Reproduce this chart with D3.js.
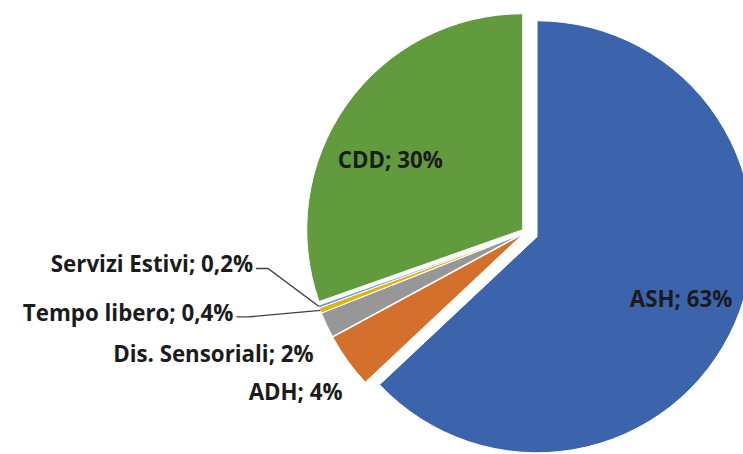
<!DOCTYPE html>
<html>
<head>
<meta charset="utf-8">
<script src="https://cdn.jsdelivr.net/npm/d3@7"></script>
<style>
  body { margin: 0; background: #fff; }
  svg { display: block; }
  .lbl { font-family: "Open Sans", sans-serif; font-weight: bold; font-size: 22.3px; fill: #1b1b1b; }
</style>
</head>
<body>
<svg id="pieChart" width="743" height="454"></svg>
<script>
// Chart data (percent shares)
var categories = ["ASH", "ADH", "Dis. Sensoriali", "Tempo libero", "Servizi Estivi", "CDD"];
var shares = [63.0, 4.1, 1.9, 0.4, 0.2, 30.4];
var sliceColors = ["#3c64ac", "#d5702c", "#979797", "#e8b00f", "#5b9bd5", "#629a3e"];

// how far each slice is pulled out of the pie
var explode = [12, 4, 4, 4, 4, 4];

// label placement: radius along mid angle + nudge
var labelPos = [
  {r: 157, dx: 0, dy: 0, anchor: "middle"},
  {r: 216, dx: -52, dy: 31, anchor: "middle"},
  {r: 216, dx: -13, dy: 29, anchor: "end"},
  {r: 216, dx: -87, dy: 2.5, anchor: "end", leader: true},
  {r: 216, dx: -66, dy: -42, anchor: "end", leader: true},
  {r: 150, dx: -10, dy: 17, anchor: "middle"}
];

var width = 743, height = 454;
var cx = 526, cy = 232, radius = 216;

var total = d3.sum(shares);

function fmtPct(v) {
  var p = v / total * 100;
  if (p < 1) return d3.format(".1f")(p).replace(".", ",") + "%";
  return Math.round(p) + "%";
}

function dir(a) {
  return [Math.sin(a), -Math.cos(a)];
}

var svg = d3.select("#pieChart");
var g = svg.append("g").attr("transform", "translate(" + cx + "," + cy + ")");

var pie = d3.pie().sort(null).value(function (d) { return d; });
var arcs = pie(shares);

var arc = d3.arc().innerRadius(0).outerRadius(radius);

// slices
g.selectAll("path.slice")
  .data(arcs)
  .enter().append("path")
  .attr("class", "slice")
  .attr("d", arc)
  .attr("transform", function (d, i) {
    var m = dir((d.startAngle + d.endAngle) / 2);
    return "translate(" + (m[0] * explode[i]) + "," + (m[1] * explode[i]) + ")";
  })
  .attr("fill", function (d, i) { return sliceColors[i]; })
  .attr("stroke", "#fff")
  .attr("stroke-width", 1);

// compute label anchors
var labels = arcs.map(function (d, i) {
  var m = dir((d.startAngle + d.endAngle) / 2);
  var lp = labelPos[i];
  var ox = m[0] * explode[i], oy = m[1] * explode[i];
  var edge = [ox + m[0] * radius, oy + m[1] * radius];
  var pt = [ox + m[0] * lp.r + lp.dx, oy + m[1] * lp.r + lp.dy];
  return {i: i, edge: edge, x: pt[0], y: pt[1], lp: lp,
          text: categories[i] + "; " + fmtPct(shares[i])};
});

// leader lines for the tiny slices
g.selectAll("polyline.leader")
  .data(labels.filter(function (d) { return d.lp.leader; }))
  .enter().append("polyline")
  .attr("class", "leader")
  .attr("points", function (d) {
    var y = d.y + 4;
    return [[d.x + 3, y], [d.x + 15, y], d.edge].map(function (p) { return p.join(","); }).join(" ");
  })
  .attr("fill", "none")
  .attr("stroke", "#404040")
  .attr("stroke-width", 1.4);

g.selectAll("text.lbl")
  .data(labels)
  .enter().append("text")
  .attr("class", "lbl")
  .attr("x", function (d) { return d.x; })
  .attr("y", function (d) { return d.y; })
  .attr("dy", "0.35em")
  .attr("text-anchor", function (d) { return d.lp.anchor; })
  .text(function (d) { return d.text; });
</script>
</body>
</html>
